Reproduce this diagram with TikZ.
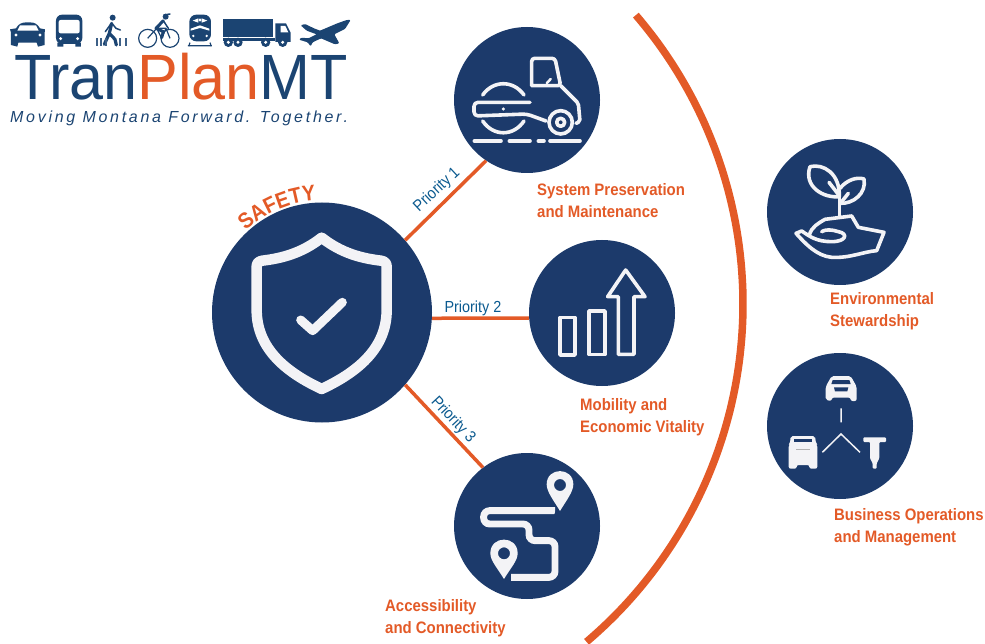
\documentclass[tikz,border=0pt]{standalone}
\usepackage{fontspec}
\setmainfont{Liberation Sans}
\newfontfamily\labfont[FakeStretch=0.9]{Liberation Sans}
\newfontfamily\prifont[FakeStretch=0.9]{Liberation Sans}
\newfontfamily\logofont[FakeStretch=0.955]{Liberation Sans}
\newfontfamily\tagfont[LetterSpace=17]{Liberation Sans}
\usetikzlibrary{decorations.text}
\definecolor{navy}{HTML}{1C3A6B}
\definecolor{org}{HTML}{E35A27}
\definecolor{iconw}{HTML}{F3F3F6}
\definecolor{pri}{HTML}{0B5A8F}
\definecolor{logob}{HTML}{1B4472}
\tikzset{
  disc/.style={circle,fill=navy,draw=none,inner sep=0pt,minimum size=146pt},
  link/.style={draw=org,line width=3.5pt},
  plabel/.style={text=pri,font=\prifont\fontsize{16}{18}\selectfont,inner sep=0pt},
  tlabel/.style={text=org,font=\labfont\bfseries\fontsize{16.6}{22}\selectfont,align=left,anchor=west,inner sep=0pt},
  ic/.style={draw=iconw,line width=3.6pt,line cap=round,line join=round},
  lg/.style={fill=logob,draw=none},
  lw/.style={fill=white,draw=none}
}
\begin{document}
\begin{tikzpicture}[x=1pt,y=-1pt]
\useasboundingbox (0,0) rectangle (985,644);
% big arc
\draw[draw=org,line width=7.5pt] plot[domain=-40.7:49.7,samples=120] ({300+443*cos(\x)},{304+443*sin(\x)});
% discs
\node[disc,minimum size=220pt] (safety) at (322,312.5) {};
\node[disc] (top) at (527,100) {};
\node[disc] (mid) at (602,313) {};
\node[disc] (bot) at (527,526) {};
\node[disc] (env) at (840,212) {};
\node[disc] (biz) at (840,426) {};
% connectors
\draw[link] (safety.41.6) -- (top.236);
\draw[link] (safety.-3.4) -- (mid.184.7);
\draw[link] (safety.-41.6) -- (bot.127.3);
% priority labels
\node[plabel,rotate=43] (p1) at (437,190) {Priority 1};
\node[plabel] (p2) at (473,308) {Priority 2};
\node[plabel,rotate=-47] (p3) at (453,420) {Priority 3};
% text labels
\node[tlabel] (t1) at (537,201) {System Preservation\\and Maintenance};
\node[tlabel] (t2) at (580,417) {Mobility and\\Economic Vitality};
\node[tlabel] (t3) at (385,618) {Accessibility\\and Connectivity};
\node[tlabel] (t4) at (830,311) {Environmental\\Stewardship};
\node[tlabel] (t5) at (834,527) {Business Operations\\and Management};
% SAFETY
\path[decorate,decoration={text along path,text align=center,
  text={|\fontsize{22}{24}\selectfont\labfont\bfseries\color{org}|SAFETY}}]
  plot[domain=-146:-80,samples=40] ({322+112*cos(\x)},{312.5+112*sin(\x)});
% shield
\begin{scope}[shift={(205,170)},x=0.33333pt,y=-0.33333pt]
\draw[draw=iconw,line width=10.5pt,line join=round]
 (350,203) .. controls (290,250) and (230,265) .. (172,272) .. controls (160,274) and (155,280) .. (155,290)
 -- (155,420) .. controls (155,540) and (250,610) .. (350,657)
 .. controls (450,610) and (545,540) .. (545,420) -- (545,290) .. controls (545,280) and (540,274) .. (528,272)
 .. controls (470,265) and (410,250) .. (350,203) -- cycle;
\draw[draw=iconw,line width=9pt,line cap=round,line join=round] (287,450) -- (323,482) -- (412,397);
\end{scope}
% roller
\begin{scope}[shift={(440,15)},x=0.33333pt,y=-0.33333pt]
\draw[ic,rounded corners=3pt] (275,212) -- (275,130) -- (345,130) -- (362,212) -- (275,212);
\draw[ic,rounded corners=2pt] (362,212) -- (415,265) -- (420,320) -- (408,325);
\draw[ic,line width=2.5pt] (320,205) -- (332,192);
\draw[ic] (362,322) circle[radius=35];
\draw[ic] (362,322) circle[radius=12];
\draw[ic] (128,240) .. controls (160,195) and (220,195) .. (252,240);
\draw[ic] (128,318) .. controls (160,365) and (220,365) .. (252,318);
\draw[ic,rounded corners=4pt] (270,262) -- (102,262) -- (102,303) -- (260,297) -- (318,318);
\fill[iconw] (190,282) circle[radius=5];
\draw[ic] (103,378) -- (183,378) (208,378) -- (270,378) (295,378) -- (312,378) (330,378) -- (420,378);
\end{scope}
% bars
\begin{scope}[shift={(520,235)},x=0.33333pt,y=-0.33333pt]
\draw[ic] (120,248) rectangle (165,360);
\draw[ic] (207,228) rectangle (255,358);
\draw[ic] (295,358) -- (295,185) -- (263,185) -- (317,105) -- (375,185) -- (342,185) -- (342,358) -- cycle;
\end{scope}
% route
\begin{scope}[shift={(445,450)},x=0.33333pt,y=-0.33333pt]
\draw[draw=iconw,line width=6.9pt,rounded corners=6pt]
 (330,182) -- (116,182) -- (116,222) -- (252,222) -- (252,272) -- (330,272) -- (330,382) -- (198,382);
\fill[navy] (340,165) -- (325,200) -- (345,200) -- (355,170) -- cycle;
\fill[iconw,even odd rule] (345,183) .. controls (325,150) and (305,125) .. (305,103) .. controls (305,50) and (385,50) .. (385,103) .. controls (385,125) and (365,150) .. (345,183) -- cycle (345,105) circle[radius=18];
\fill[navy] (182,370) -- (197,392) -- (180,398) -- (165,370) -- cycle;
\fill[iconw,even odd rule] (177,387) .. controls (157,354) and (136,332) .. (136,310) .. controls (136,255) and (218,255) .. (218,310) .. controls (218,332) and (197,354) .. (177,387) -- cycle (177,310) circle[radius=18];
\end{scope}
% plant
\begin{scope}[shift={(760,130)},x=0.33333pt,y=-0.33333pt]
\draw[ic] (150,110) .. controls (190,100) and (240,130) .. (238,200) .. controls (190,205) and (130,170) .. (150,110) -- cycle;
\draw[ic] (240,175) .. controls (260,150) and (290,140) .. (312,147) .. controls (320,190) and (280,222) .. (240,220);
\draw[ic] (238,195) -- (238,262);
\draw[ic] (207,157) -- (238,197);
\draw[ic] (265,190) -- (245,215);
\draw[ic] (148,315) .. controls (155,290) and (175,280) .. (195,268) -- (275,258) -- (295,292) -- (372,307) -- (350,362)
 .. controls (310,365) and (270,385) .. (215,382) .. controls (170,378) and (135,340) .. (108,310) -- (125,303)
 .. controls (150,320) and (170,335) .. (215,335) .. controls (260,335) and (265,310) .. (235,305) .. controls (215,298) and (195,298) .. (185,305);
\end{scope}
% business
\begin{scope}[shift={(760,350)},x=0.33333pt,y=-0.33333pt]
\draw[draw=iconw,line width=1.5pt] (243,175) -- (243,217) (187,307) -- (243,252) -- (300,307);
% car
\fill[iconw,rounded corners=2pt] (197,150) -- (197,110) -- (215,78) -- (272,78) -- (290,110) -- (290,153) -- (272,153) -- (272,143) -- (215,143) -- (215,153) -- cycle;
\fill[navy] (218,90) -- (268,90) -- (272,102) -- (214,102) -- cycle;
\fill[navy] (222,112) -- (265,112) -- (262,124) -- (225,124) -- cycle;
% truck
\fill[iconw,rounded corners=2pt] (92,258) -- (165,258) -- (168,280) -- (172,285) -- (172,356) -- (148,356) -- (148,345) -- (110,345) -- (110,356) -- (86,356) -- (86,285) -- (90,280) -- cycle;
\fill[navy] (102,267) -- (155,267) -- (155,277) -- (102,277) -- cycle;
\fill[gray!60] (108,297) rectangle (150,300);
% jackhammer
\fill[iconw,rounded corners=1pt] (310,262) -- (378,262) -- (378,276) -- (358,276) -- (358,325) -- (350,340) -- (350,356) -- (338,356) -- (338,340) -- (330,325) -- (330,276) -- (310,276) -- cycle;
\end{scope}
% logo icons
\begin{scope}[shift={(0,0)},x=0.33333pt,y=-0.33333pt]
% car
\fill[lg] (48,85) .. controls (55,72) and (65,67) .. (80,67) -- (88,67) .. controls (105,67) and (112,72) .. (120,85) -- (135,88) -- (134,98) -- (134,135) -- (114,140) -- (110,128) -- (55,128) -- (52,140) -- (33,135) -- (33,98) -- (30,88) -- cycle;
\fill[lw] (60,76) -- (108,76) -- (116,92) -- (52,92) -- cycle;
\fill[lw] (48,105) circle[radius=5] (120,105) circle[radius=5];
% bus
\fill[lg,rounded corners=6pt] (168,44) rectangle (247,132);
\fill[lg] (172,128) rectangle (190,140) (226,128) rectangle (243,140);
\fill[lw,rounded corners=2pt] (176,60) rectangle (239,100);
\fill[lw] (182,116) circle[radius=5] (233,116) circle[radius=5];
% pedestrian
\fill[lg] (338,53) circle[radius=9];
\draw[draw=logob,line width=3.2pt,line cap=round,line join=round] (335,70) -- (328,100) -- (313,133) (328,100) -- (345,118) -- (349,135);
\draw[draw=logob,line width=1.5pt,line cap=round,line join=round] (334,70) -- (316,95) (336,70) -- (348,85) -- (361,90);
\foreach \xx in {291,304,318,361,378}{\fill[logob!85] (\xx-3,114) rectangle (\xx+3,138);}
% bike
\draw[draw=logob,line width=1.2pt] (443,115) circle[radius=27] (510,115) circle[radius=27];
\draw[draw=logob,line width=1.2pt,line join=round] (443,115) -- (470,85) -- (498,85) -- (510,115) (470,85) -- (485,115) -- (498,85);
\fill[lg] (497,50) circle[radius=9];
\draw[draw=logob,line width=3pt,line cap=round,line join=round] (490,62) -- (468,85) -- (490,95) -- (485,113);
\draw[draw=logob,line width=1.5pt,line cap=round] (490,62) -- (505,85) (492,45) -- (510,42);
% train
\fill[lg,rounded corners=7pt] (568,44) rectangle (633,124);
\fill[lw] (578,62) -- (595,55) -- (595,68) -- cycle (622,62) -- (605,55) -- (605,68) -- cycle;
\fill[lw] (600,60) circle[radius=5];
\fill[lw] (572,86) -- (600,76) -- (628,86) -- (628,92) -- (600,84) -- (572,92) -- cycle;
\fill[lw] (580,108) circle[radius=4] (620,108) circle[radius=4];
\draw[draw=logob,line width=1.2pt] (564,137) -- (636,137) (570,128) -- (566,139) (630,128) -- (634,139);
% truck
\fill[lg] (668,58) rectangle (820,112);
\fill[lg] (668,114) rectangle (826,124);
\fill[lg] (826,70) -- (858,70) -- (872,98) -- (872,126) -- (826,126) -- cycle;
\fill[lw] (842,78) -- (856,78) -- (865,97) -- (842,97) -- cycle;
\foreach \xx in {685,714,797,848}{\fill[lg] (\xx,127) circle[radius=14]; \fill[lw] (\xx,127) circle[radius=5];}
% plane
\fill[lg,rounded corners=1pt] (1052,60) -- (1035,87) -- (1003,103) -- (1018,130) -- (1005,133) -- (963,115) -- (938,127) -- (932,139) -- (923,127) -- (897,119) -- (904,113) -- (925,115) -- (950,103) -- (920,92) -- (902,76) -- (915,72) -- (942,85) -- (960,92) -- (1012,70) -- (1040,60) -- cycle;
\end{scope}
% logo text
\node[anchor=base west,inner sep=0pt,text=logob,font=\logofont\fontsize{64}{64}\selectfont] (logo) at (14,100)
 {Tran\textcolor{org}{Plan}MT};
\node[anchor=base west,inner sep=0pt,text=logob,font=\tagfont\itshape\fontsize{16}{18}\selectfont] (tag) at (10,123)
 {Moving Montana Forward. Together.};
\end{tikzpicture}
\end{document}
